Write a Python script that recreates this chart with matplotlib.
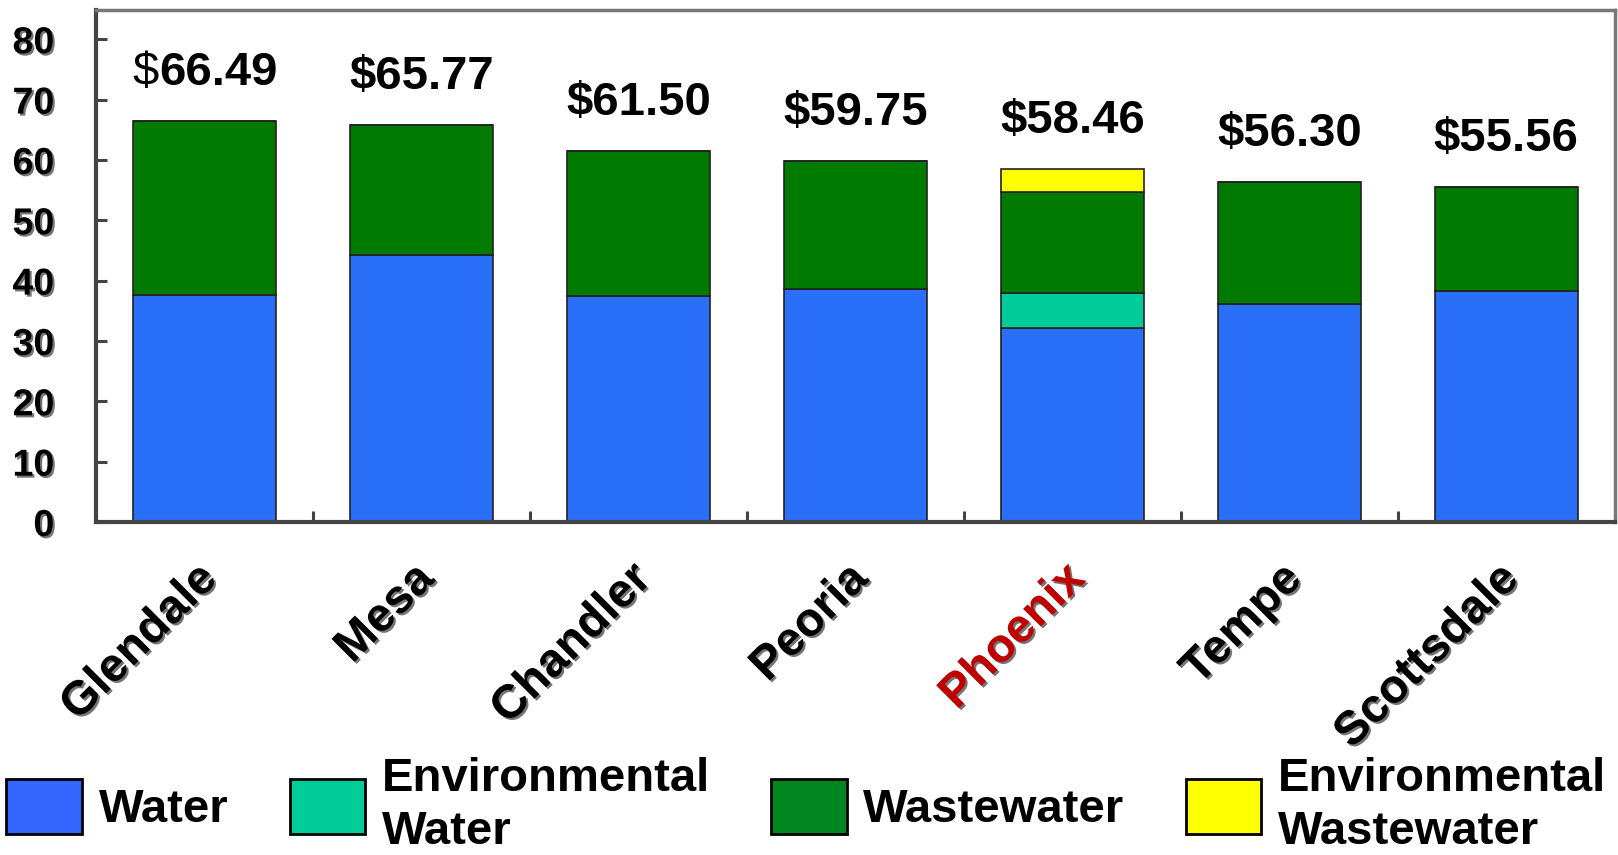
import matplotlib.pyplot as plt
import matplotlib.patheffects as pe
import matplotlib.transforms as mtransforms
from matplotlib.patches import Patch
import numpy as np

# monthly bill by city, $
cities = ['Glendale', 'Mesa', 'Chandler', 'Peoria', 'Phoenix', 'Tempe', 'Scottsdale']
water = [37.6, 44.3, 37.5, 38.6, 32.2, 36.2, 38.2]
env_water = [0, 0, 0, 0, 5.75, 0, 0]
wastewater = [28.89, 21.47, 24.0, 21.15, 16.75, 20.1, 17.36]
env_wastewater = [0, 0, 0, 0, 3.76, 0, 0]
totals = [66.49, 65.77, 61.50, 59.75, 58.46, 56.30, 55.56]
yticks = [0, 10, 20, 30, 40, 50, 60, 70, 80]

bar_colors = ['#2A6FF8', '#00CC99', '#007A00', '#FFFF00']
legend_colors = ['#3366FF', '#00CC99', '#00861F', '#FFFF00']
legend_labels = ['Water', 'Environmental\nWater', 'Wastewater', 'Environmental\nWastewater']

plt.rcParams['font.family'] = ['Liberation Sans', 'DejaVu Sans']
shadow = [pe.withSimplePatchShadow(offset=(1.5, -1.5), shadow_rgbFace='#666666', alpha=0.9)]

fig = plt.figure(figsize=(16.18, 8.55), dpi=100)
ax = fig.add_axes([0.0593, 0.3895, 0.9387, 0.5985])

x = np.arange(len(cities))
bottom = np.zeros(len(cities))
for vals, col in zip([water, env_water, wastewater, env_wastewater], bar_colors):
    vals = np.array(vals)
    ax.bar(x, vals, 0.66, bottom=bottom, color=col, edgecolor='#222222', linewidth=1.2)
    bottom += vals

for i, (xi, t) in enumerate(zip(x, totals)):
    if i == 0:
        # first label has a non-bold dollar sign in the original
        num = ax.annotate(f'{t:.2f}', (xi, t + 4.3), xytext=(10, 0), textcoords='offset points',
                          ha='center', va='bottom', fontsize=34, fontweight='bold')
        ax.annotate('$', (0, 0), xycoords=num, ha='right', va='bottom', fontsize=34)
    else:
        ax.text(xi, t + 4.3, f'${t:.2f}', ha='center', va='bottom', fontsize=34, fontweight='bold')

ax.set_xlim(-0.5, len(cities) - 0.5)
ax.set_ylim(0, 84.8)
ax.set_yticks(yticks)
ax.set_yticklabels([str(v) for v in yticks], fontsize=27, fontweight='bold')
for lab in ax.get_yticklabels():
    lab.set_path_effects(shadow)
ax.tick_params(axis='y', direction='in', length=8, width=2.2, color='#444444', pad=30)

ax.set_xticks(x)
ax.set_xticklabels(cities, fontsize=34, fontweight='bold', rotation=45, ha='right',
                   va='center', rotation_mode='anchor')
ax.set_xticks(np.arange(len(cities) - 1) + 0.5, minor=True)
ax.tick_params(axis='x', which='major', length=0, pad=36)
ax.tick_params(axis='x', which='minor', direction='in', length=8, width=2.2, color='#444444')
shift = mtransforms.ScaledTranslation(6 / 100, 0, fig.dpi_scale_trans)
for lab in ax.get_xticklabels():
    lab.set_transform(lab.get_transform() + shift)
    lab.set_path_effects(shadow)
    if lab.get_text() == 'Phoenix':
        lab.set_color('#C00000')

for side in ['left', 'bottom']:
    ax.spines[side].set_color('#444444')
    ax.spines[side].set_linewidth(3)
for side in ['top', 'right']:
    ax.spines[side].set_color('#777777')
    ax.spines[side].set_linewidth(2.5)

handles = [Patch(facecolor=c, edgecolor='black', linewidth=2) for c in legend_colors]
leg = fig.legend(handles, legend_labels, loc='center left', bbox_to_anchor=(0.004, 0.058),
                 ncol=4, frameon=False, handlelength=1.6, handleheight=1.4,
                 handletextpad=0.35, columnspacing=1.3, borderpad=0, borderaxespad=0,
                 prop={'weight': 'bold', 'size': 34})
for t in leg.get_texts():
    t.set_linespacing(1.25)

fig.savefig('out.png', dpi=100)
